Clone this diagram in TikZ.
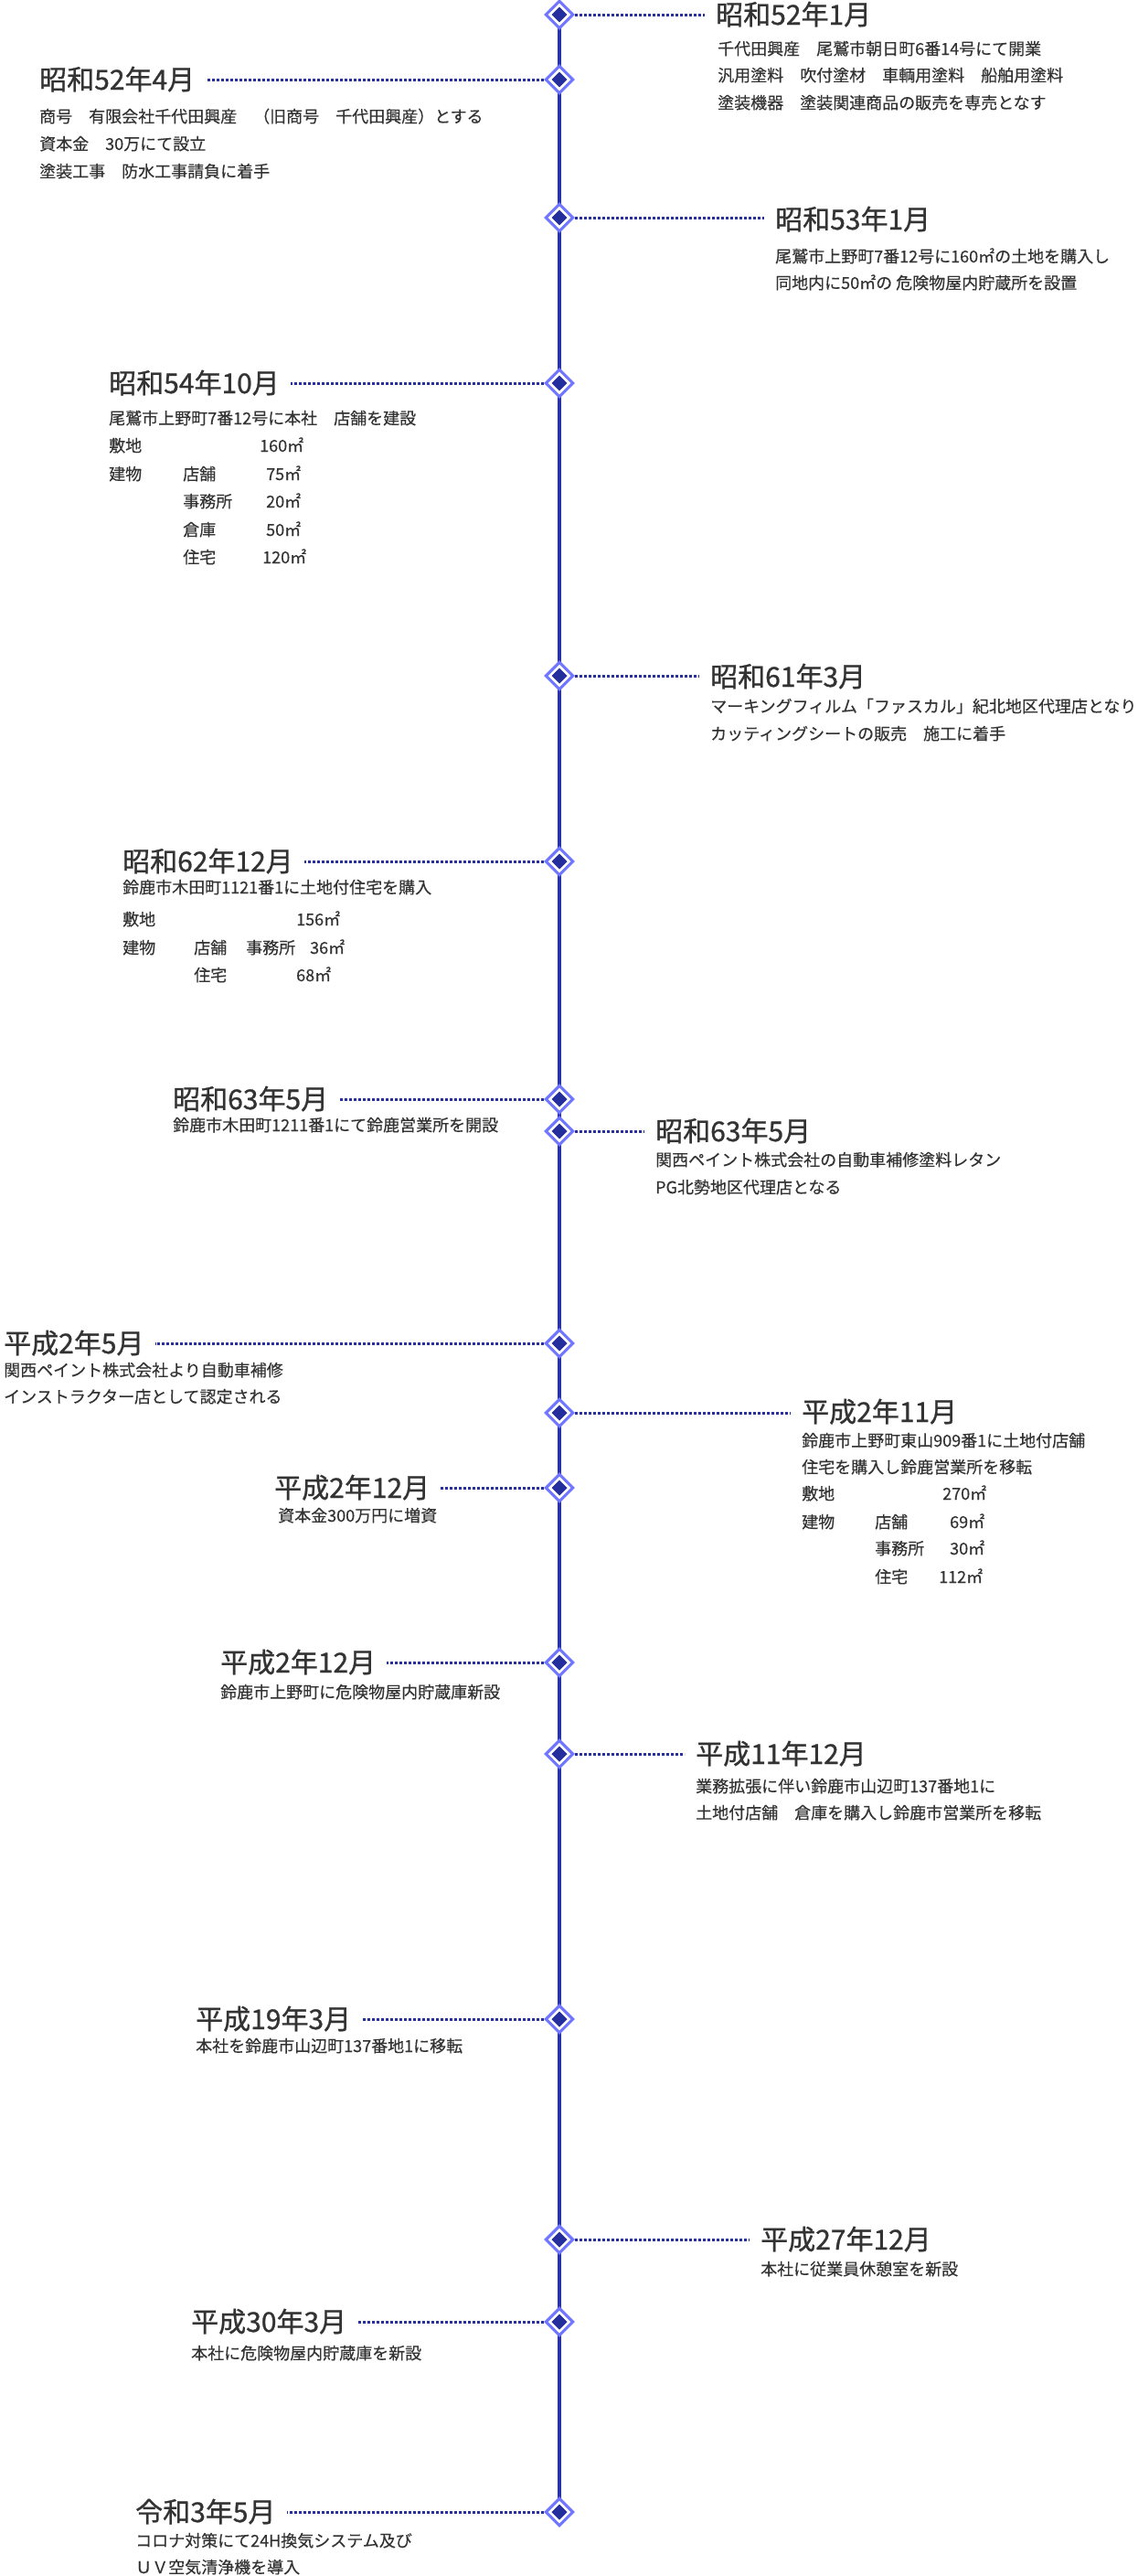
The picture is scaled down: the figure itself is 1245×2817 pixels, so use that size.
\documentclass[tikz,border=0pt]{standalone}
\usepackage{fontspec}
\setmainfont[FakeBold=0.35]{Noto Sans CJK JP}
\newfontfamily\ttlface[FakeBold=0.9]{Noto Sans CJK JP}
\usetikzlibrary{shapes.geometric,backgrounds}
\definecolor{vline}{RGB}{42,50,168}
\definecolor{dotc}{RGB}{40,48,160}
\definecolor{ltd}{RGB}{112,118,255}
\definecolor{dkd}{RGB}{36,46,156}
\definecolor{txt}{RGB}{51,51,51}
\newcommand\bodysize{\fontsize{18}{20}\selectfont}
\newcommand\ttlsize{\ttlface\fontsize{30}{32}\selectfont}
\tikzset{
  diam/.style={shape=diamond, minimum size=21pt, inner sep=0pt, outer sep=0pt,
    fill=dkd, draw=white, line width=2.5pt, preaction={draw=ltd, line width=9pt}},
  ttl/.style={font=\ttlsize, text=txt, inner sep=0pt, anchor=base west},
  bdy/.style={font=\bodysize, text=txt, inner sep=0pt, anchor=base west},
  conn/.style={draw=dotc, line width=3pt, dash pattern=on 3pt off 2pt,
    shorten <=6.5pt, shorten >=12pt},
  spine/.style={draw=vline, line width=4pt},
}
\begin{document}
\begin{tikzpicture}[x=1pt,y=-1pt]
\useasboundingbox (0,0) rectangle (1245,2817);
% diamonds
\node[diam] (d1) at (612,16) {};
\node[diam] (d2) at (612,87) {};
\node[diam] (d3) at (612,238) {};
\node[diam] (d4) at (612,419) {};
\node[diam] (d5) at (612,739) {};
\node[diam] (d6) at (612,942) {};
\node[diam] (d7) at (612,1202) {};
\node[diam] (d8) at (612,1237) {};
\node[diam] (d9) at (612,1469) {};
\node[diam] (d10) at (612,1545) {};
\node[diam] (d11) at (612,1627) {};
\node[diam] (d12) at (612,1818) {};
\node[diam] (d13) at (612,1918) {};
\node[diam] (d14) at (612,2208) {};
\node[diam] (d15) at (612,2449) {};
\node[diam] (d16) at (612,2539) {};
\node[diam] (d17) at (612,2747) {};
\begin{scope}[on background layer]
\draw[spine] (d1.center) -- (d17.center);
\end{scope}
% event 1
\node[ttl] (t1) at (783,27) {昭和52年1月};
\node[bdy] (b1a) at (785,60) {千代田興産　尾鷲市朝日町6番14号にて開業};
\node[bdy] (b1b) at (785,89) {汎用塗料　吹付塗材　車輌用塗料　船舶用塗料};
\node[bdy] (b1c) at (785,119) {塗装機器　塗装関連商品の販売を専売となす};
\draw[conn] (d1.east) -- (t1.west |- d1.east);
% event 2
\node[ttl] (t2) at (43,98) {昭和52年4月};
\node[bdy] (b2a) at (43,134) {商号　有限会社千代田興産　（旧商号　千代田興産）とする};
\node[bdy] (b2b) at (43,164) {資本金　30万にて設立};
\node[bdy] (b2c) at (43,194) {塗装工事　防水工事請負に着手};
\draw[conn] (d2.west) -- (t2.east |- d2.west);
% event 3
\node[ttl] (t3) at (848,251) {昭和53年1月};
\node[bdy] (b3a) at (848,287) {尾鷲市上野町7番12号に160㎡の土地を購入し};
\node[bdy] (b3b) at (848,316) {同地内に50㎡の 危険物屋内貯蔵所を設置};
\draw[conn] (d3.east) -- (t3.west |- d3.east);
% event 4
\node[ttl] (t4) at (119,430) {昭和54年10月};
\node[bdy] (b4a) at (119,464) {尾鷲市上野町7番12号に本社　店舗を建設};
\node[bdy] (b4b) at (119,494) {敷地};
\node[bdy] (b4bv) at (284,494) {160㎡};
\node[bdy] (b4c) at (119,525) {建物};
\node[bdy] (b4ck) at (200,525) {店舗};
\node[bdy] (b4cv) at (291,525) {75㎡};
\node[bdy] (b4dk) at (200,555) {事務所};
\node[bdy] (b4dv) at (291,555) {20㎡};
\node[bdy] (b4ek) at (200,586) {倉庫};
\node[bdy] (b4ev) at (291,586) {50㎡};
\node[bdy] (b4fk) at (200,616) {住宅};
\node[bdy] (b4fv) at (287,616) {120㎡};
\draw[conn] (d4.west) -- (t4.east |- d4.west);
% event 5
\node[ttl] (t5) at (777,751) {昭和61年3月};
\node[bdy] (b5a) at (777,779) {マーキングフィルム「ファスカル」紀北地区代理店となり};
\node[bdy] (b5b) at (777,809) {カッティングシートの販売　施工に着手};
\draw[conn] (d5.east) -- (t5.west |- d5.east);
% event 6
\node[ttl] (t6) at (134,953) {昭和62年12月};
\node[bdy] (b6a) at (134,977) {鈴鹿市木田町1121番1に土地付住宅を購入};
\node[bdy] (b6b) at (134,1012) {敷地};
\node[bdy] (b6bv) at (324,1012) {156㎡};
\node[bdy] (b6c) at (134,1043) {建物};
\node[bdy] (b6ck) at (212,1043) {店舗};
\node[bdy] (b6ck2) at (269,1043) {事務所};
\node[bdy] (b6cv) at (339,1043) {36㎡};
\node[bdy] (b6dk) at (212,1073) {住宅};
\node[bdy] (b6dv) at (324,1073) {68㎡};
\draw[conn] (d6.west) -- (t6.east |- d6.west);
% event 7
\node[ttl] (t7) at (189,1213) {昭和63年5月};
\node[bdy] (b7a) at (189,1237) {鈴鹿市木田町1211番1にて鈴鹿営業所を開設};
\draw[conn] (d7.west) -- (t7.east |- d7.west);
% event 8
\node[ttl] (t8) at (717,1248) {昭和63年5月};
\node[bdy] (b8a) at (717,1275) {関西ペイント株式会社の自動車補修塗料レタン};
\node[bdy] (b8b) at (717,1305) {PG北勢地区代理店となる};
\draw[conn] (d8.east) -- (t8.west |- d8.east);
% event 9
\node[ttl] (t9) at (4,1480) {平成2年5月};
\node[bdy] (b9a) at (4,1505) {関西ペイント株式会社より自動車補修};
\node[bdy] (b9b) at (4,1534) {インストラクター店として認定される};
\draw[conn] (d9.west) -- (t9.east |- d9.west);
% event 10
\node[ttl] (t10) at (877,1555) {平成2年11月};
\node[bdy] (b10a) at (877,1582) {鈴鹿市上野町東山909番1に土地付店舗};
\node[bdy] (b10b) at (877,1611) {住宅を購入し鈴鹿営業所を移転};
\node[bdy] (b10c) at (877,1640) {敷地};
\node[bdy] (b10cv) at (1031,1640) {270㎡};
\node[bdy] (b10d) at (877,1671) {建物};
\node[bdy] (b10dk) at (957,1671) {店舗};
\node[bdy] (b10dv) at (1039,1671) {69㎡};
\node[bdy] (b10ek) at (957,1700) {事務所};
\node[bdy] (b10ev) at (1039,1700) {30㎡};
\node[bdy] (b10fk) at (957,1731) {住宅};
\node[bdy] (b10fv) at (1027,1731) {112㎡};
\draw[conn] (d10.east) -- (t10.west |- d10.east);
% event 11
\node[ttl] (t11) at (300,1638) {平成2年12月};
\node[bdy] (b11a) at (304,1664) {資本金300万円に増資};
\draw[conn] (d11.west) -- (t11.east |- d11.west);
% event 12
\node[ttl] (t12) at (241,1829) {平成2年12月};
\node[bdy] (b12a) at (241,1857) {鈴鹿市上野町に危険物屋内貯蔵庫新設};
\draw[conn] (d12.west) -- (t12.east |- d12.west);
% event 13
\node[ttl] (t13) at (761,1929) {平成11年12月};
\node[bdy] (b13a) at (761,1960) {業務拡張に伴い鈴鹿市山辺町137番地1に};
\node[bdy] (b13b) at (761,1989) {土地付店舗　倉庫を購入し鈴鹿市営業所を移転};
\draw[conn] (d13.east) -- (t13.west |- d13.east);
% event 14
\node[ttl] (t14) at (214,2219) {平成19年3月};
\node[bdy] (b14a) at (214,2244) {本社を鈴鹿市山辺町137番地1に移転};
\draw[conn] (d14.west) -- (t14.east |- d14.west);
% event 15
\node[ttl] (t15) at (832,2460) {平成27年12月};
\node[bdy] (b15a) at (832,2488) {本社に従業員休憩室を新設};
\draw[conn] (d15.east) -- (t15.west |- d15.east);
% event 16
\node[ttl] (t16) at (209,2550) {平成30年3月};
\node[bdy] (b16a) at (209,2580) {本社に危険物屋内貯蔵庫を新設};
\draw[conn] (d16.west) -- (t16.east |- d16.west);
% event 17
\node[ttl] (t17) at (148,2758) {令和3年5月};
\node[bdy] (b17a) at (148,2785) {コロナ対策にて24H換気システム及び};
\node[bdy] (b17b) at (148,2814) {ＵＶ空気清浄機を導入};
\draw[conn] (d17.west) -- (t17.east |- d17.west);
\end{tikzpicture}
\end{document}
